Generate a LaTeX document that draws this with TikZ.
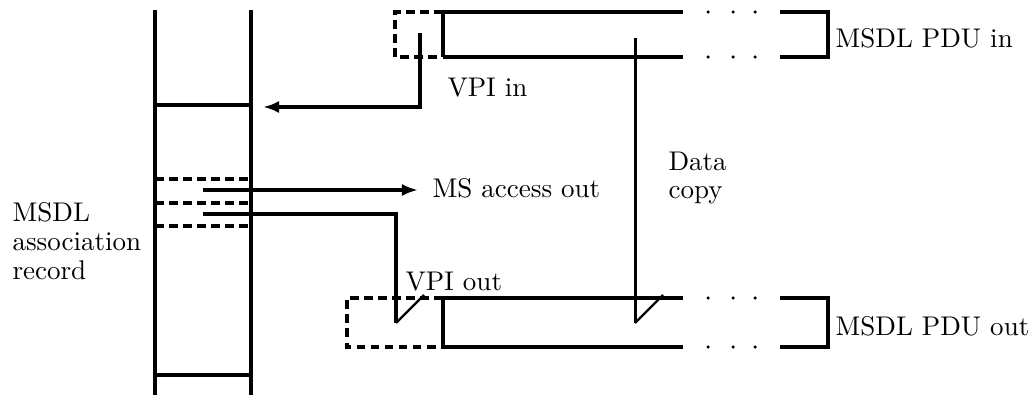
\documentclass[tikz,border=0pt]{standalone}
\usetikzlibrary{arrows.meta}
\begin{document}
\begin{tikzpicture}[x={(0.37pt,0pt)},y={(0pt,-0.37pt)},
  heavy/.style={line width=1.4pt},
  dashedline/.style={line width=1.4pt,dash pattern=on 3.2pt off 2pt},
  link/.style={line width=1.1pt},
  slash/.style={line width=0.8pt},
  tip/.style={-{Latex[length=6pt,width=4.5pt]}},
  lbl/.style={anchor=base west,inner sep=0pt,font=\fontsize{10}{10.6}\selectfont,align=left},
  dot/.style={circle,fill=black,inner sep=0pt,minimum size=1.3pt}]
\useasboundingbox (0,0) rectangle (1035,395);
% record columns
\draw[heavy] (155,10) -- (155,395);
\draw[heavy] (251,10) -- (251,395);
\draw[heavy] (155,105) -- (251,105);
\draw[heavy] (155,375) -- (251,375);
\draw[dashedline] (155,179) -- (251,179);
\draw[dashedline] (155,203) -- (251,203);
\draw[dashedline] (155,226) -- (251,226);
% PDU in
\draw[dashedline] (443,12) -- (395,12) -- (395,57) -- (443,57);
\draw[heavy] (443,12) -- (683,12);
\draw[heavy] (443,57) -- (683,57);
\draw[heavy] (443,12) -- (443,57);
\draw[heavy] (780,12) -- (828,12) -- (828,57) -- (780,57);
\foreach \x in {708,733,755} { \node[dot] at (\x,12) {}; \node[dot] at (\x,57) {}; }
% PDU out
\draw[dashedline] (443,298) -- (347,298) -- (347,347) -- (443,347);
\draw[heavy] (443,298) -- (683,298);
\draw[heavy] (443,347) -- (683,347);
\draw[heavy] (443,298) -- (443,347);
\draw[heavy] (780,298) -- (828,298) -- (828,347) -- (780,347);
\foreach \x in {708,733,755} { \node[dot] at (\x,298) {}; \node[dot] at (\x,347) {}; }
% coordinates
\coordinate (vpiinsrc) at (420,33);
\coordinate (vpiincorner) at (420,107);
\coordinate (vpiintgt) at (263,107);
\coordinate (msa) at (203,190);
\coordinate (msatip) at (418,190);
\coordinate (vos) at (203,214);
\coordinate (vocorner) at (396,214);
\coordinate (vobot) at (396,323);
\coordinate (votop) at (424,295);
\coordinate (dcs) at (635,38);
\coordinate (dcbot) at (635,323);
\coordinate (dctop) at (663,295);
% connectors
\draw[heavy,tip] (vpiinsrc) -- (vpiincorner) -- (vpiintgt);
\draw[heavy,tip] (msa) -- (msatip);
\draw[heavy] (vos) -- (vocorner) -- (vobot);
\draw[slash] (vobot) -- (votop);
\draw[link] (dcs) -- (dcbot);
\draw[slash] (dcbot) -- (dctop);
% labels
\node[lbl] (tvpiin) at (447,97) {VPI in};
\node[lbl] (tms) at (432,197) {MS access out};
\node[lbl] (tdc) at (668,199) {Data\\copy};
\node[lbl] (trec) at (12,279) {MSDL\\association\\record};
\node[lbl] (tvpiout) at (405,290) {VPI out};
\node[lbl] (tpin) at (835,48) {MSDL PDU in};
\node[lbl] (tpout) at (835,335) {MSDL PDU out};
\end{tikzpicture}
\end{document}
